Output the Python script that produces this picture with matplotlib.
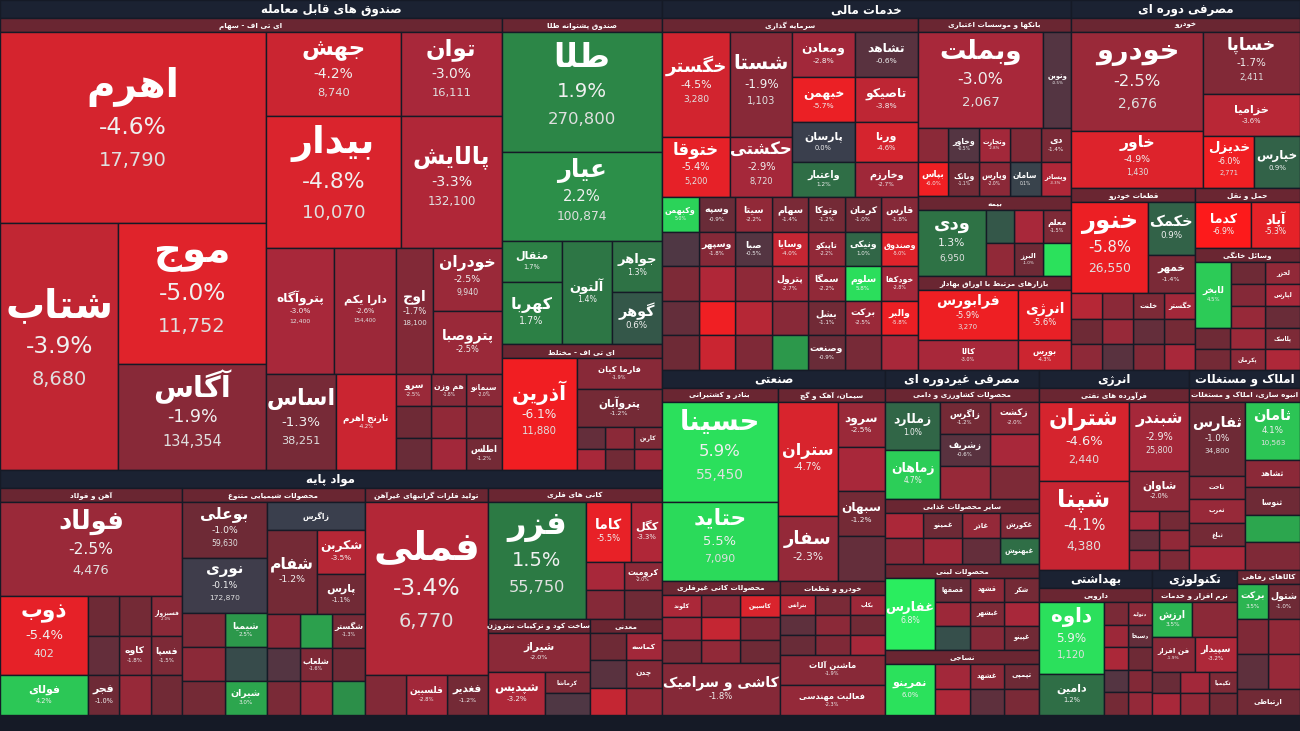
"""Tehran stock market treemap (approximate recreation)"""
import matplotlib
matplotlib.use("Agg")
import matplotlib.pyplot as plt
import numpy as np
from matplotlib.patches import Rectangle

BG = "#151a26"
HDR = "#1b2232"

# --- minimal Persian shaping (presentation forms + RTL) ---
FORMS = {
    "ا": ("\uFE8D", "\uFE8E", None, None), "آ": ("\uFE81", "\uFE82", None, None),
    "ب": ("\uFE8F", "\uFE90", "\uFE91", "\uFE92"), "پ": ("\uFB56", "\uFB57", "\uFB58", "\uFB59"),
    "ت": ("\uFE95", "\uFE96", "\uFE97", "\uFE98"), "ث": ("\uFE99", "\uFE9A", "\uFE9B", "\uFE9C"),
    "ج": ("\uFE9D", "\uFE9E", "\uFE9F", "\uFEA0"), "چ": ("\uFB7A", "\uFB7B", "\uFB7C", "\uFB7D"),
    "ح": ("\uFEA1", "\uFEA2", "\uFEA3", "\uFEA4"), "خ": ("\uFEA5", "\uFEA6", "\uFEA7", "\uFEA8"),
    "د": ("\uFEA9", "\uFEAA", None, None), "ذ": ("\uFEAB", "\uFEAC", None, None),
    "ر": ("\uFEAD", "\uFEAE", None, None), "ز": ("\uFEAF", "\uFEB0", None, None),
    "ژ": ("\uFB8A", "\uFB8B", None, None),
    "س": ("\uFEB1", "\uFEB2", "\uFEB3", "\uFEB4"), "ش": ("\uFEB5", "\uFEB6", "\uFEB7", "\uFEB8"),
    "ص": ("\uFEB9", "\uFEBA", "\uFEBB", "\uFEBC"), "ض": ("\uFEBD", "\uFEBE", "\uFEBF", "\uFEC0"),
    "ط": ("\uFEC1", "\uFEC2", "\uFEC3", "\uFEC4"), "ظ": ("\uFEC5", "\uFEC6", "\uFEC7", "\uFEC8"),
    "ع": ("\uFEC9", "\uFECA", "\uFECB", "\uFECC"), "غ": ("\uFECD", "\uFECE", "\uFECF", "\uFED0"),
    "ف": ("\uFED1", "\uFED2", "\uFED3", "\uFED4"), "ق": ("\uFED5", "\uFED6", "\uFED7", "\uFED8"),
    "ک": ("\uFB8E", "\uFB8F", "\uFB90", "\uFB91"), "گ": ("\uFB92", "\uFB93", "\uFB94", "\uFB95"),
    "ل": ("\uFEDD", "\uFEDE", "\uFEDF", "\uFEE0"), "م": ("\uFEE1", "\uFEE2", "\uFEE3", "\uFEE4"),
    "ن": ("\uFEE5", "\uFEE6", "\uFEE7", "\uFEE8"), "ه": ("\uFEE9", "\uFEEA", "\uFEEB", "\uFEEC"),
    "و": ("\uFEED", "\uFEEE", None, None), "ی": ("\uFBFC", "\uFBFD", "\uFBFE", "\uFBFF"),
    "ئ": ("\uFE89", "\uFE8A", "\uFE8B", "\uFE8C"),
}


def fa(s):
    s = s.replace("\u200c", " ")
    out = []
    for i, c in enumerate(s):
        if c not in FORMS:
            out.append(c)
            continue
        p = s[i - 1] if i > 0 else ""
        n = s[i + 1] if i + 1 < len(s) else ""
        jp = p in FORMS and FORMS[p][2] is not None
        jn = n in FORMS and FORMS[c][2] is not None
        iso, fin, ini, med = FORMS[c]
        if jp and jn:
            out.append(med)
        elif jp:
            out.append(fin)
        elif jn:
            out.append(ini)
        else:
            out.append(iso)
    return "".join(out)[::-1]


# --- data: treemap tree (weights = relative extents) ---
def L(w, name="", pct=0.0, val=""):
    return ("L", w, name, pct, val)


def H(w, *ch):
    return ("H", w, ch)


def V(w, *ch):
    return ("V", w, ch)


def S(w, title, child, big=False):
    return ("S", w, title, child, big)


def G(w, rows, cols, pcts, names=()):
    return ("G", w, rows, cols, pcts, names)


etf_stock = H(500,
    V(265, L(190, "اهرم", -4.6, "17,790"),
        H(245, L(118, "شتاب", -3.9, "8,680"),
            V(147, L(140, "موج", -5.0, "11,752"), L(105, "آگاس", -1.9, "134,354")))),
    V(235,
        H(83, L(135, "جهش", -4.2, "8,740"), L(100, "توان", -3.0, "16,111")),
        H(132, L(135, "بیدار", -4.8, "10,070"), L(100, "پالایش", -3.3, "132,100")),
        H(125, L(68, "پتروآگاه", -3.0, "12,400"), L(62, "دارا یکم", -2.6, "154,400"),
            L(37, "اوج", -1.7, "18,100"),
            V(68, L(62, "خودران", -2.5, "9,940"), L(63, "پتروصبا", -2.5))),
        H(95, L(70, "اساس", -1.3, "38,251"), L(60, "نارنج اهرم", -4.2, "10,013"),
            G(105, 3, 3, [-2.0, -1.8, -2.5, -1.5, -2.2, -1.0, -1.2, -2.8, -0.9],
              ["سیمانو", "هم وزن", "سرو", "", "", "", "اطلس", "", ""]))))

gold = V(325,
    L(118, "طلا", 1.9, "270,800"), L(88, "عیار", 2.2, "100,874"),
    H(102, V(60, L(40, "مثقال", 1.7), L(62, "کهربا", 1.7)), L(50, "آلتون", 1.4),
        V(50, L(50, "جواهر", 1.3), L(52, "گوهر", 0.6))))

mixed = H(125, L(75, "آذرین", -6.1, "11,880"),
    V(85, L(30, "فارما کیان", -1.9), L(38, "پتروآبان", -1.2),
        G(42, 2, 3, [-1.5, -2.0, -0.8, -2.6, -1.1, -3.0], ["کارین"])))

iron = V(182, L(95, "فولاد", -2.5, "4,476"),
    H(80, L(88, "ذوب", -5.4, "402"),
        G(94, 2, 3, [-2.0, -1.2, -1.0, -1.5, -1.8, -0.8], ["فسبزوار", "", "", "فسپا", "کاوه"])),
    H(40, L(88, "فولای", 4.2), G(94, 1, 3, [-1.1, -2.4, -1.0], ["", "", "فجر"])))

chem = H(183,
    V(85, L(57, "بوعلی", -1.0, "59,630"), L(55, "نوری", -0.1, "172,870"),
        G(103, 3, 2, [2.5, -1.5, 0.3, -2.0, 3.0, -1.2], ["شیمیا", "", "", "", "شیران"])),
    V(98, L(28, "زاگرس", 0.0),
        H(85, L(50, "شفام", -1.2), V(48, L(45, "شکربن", -3.5), L(40, "پارس", -1.1))),
        G(102, 3, 3, [-1.3, 2.8, -2.0, -1.0, -1.6, -0.5, 2.2, -2.4, -1.4], ["شگستر", "", "", "", "شلعاب"])))

metals = V(123, L(175, "فملی", -3.4, "6,770"), G(40, 1, 3, [-1.2, -2.8, -1.7], ["فغدیر", "فلسبین"]))

mining = V(174,
    S(130, "کانی های فلزی",
      H(130, L(98, "فزر", 1.5, "55,750"),
        V(76, H(60, L(45, "کاما", -5.5), L(31, "کگل", -3.3)), G(58, 2, 2, [-2.0, -3.0, -1.0, -1.8], ["کرومیت"])))),
    H(95, S(102, "ساخت کود و ترکیبات نیتروژن",
            V(102, L(45, "شیراز", -2.0), H(50, L(57, "شپدیس", -3.2, "181,720"), V(45, L(25, "کرماشا", -1.5), L(25, "", -0.4))))),
      S(72, "معدنی", G(72, 3, 2, [-2.8, -1.0, -1.7, -0.6, -2.2, -4.0], ["کماسه", "", "چدن"]))))

fin_invest = V(255,
    H(165, V(68, L(105, "خگستر", -4.5, "3,280"), L(60, "ختوقا", -5.4, "5,200")),
        V(62, L(105, "شستا", -1.9, "1,103"), L(60, "حکشتی", -2.9, "8,720")),
        V(62, L(45, "ومعادن", -2.8, "2,735"), L(45, "خبهمن", -5.7, "1,221"),
            L(40, "پارسان", 0.0), L(35, "واعتبار", 1.2)),
        V(63, L(45, "تشاهد", -0.6, "8,800"), L(45, "تاصیکو", -3.8, "8,200"),
            L(40, "ورنا", -4.6), L(35, "وخارزم", -2.7))),
    G(172, 5, 7,
      [-1.8, -1.0, -1.2, -1.4, -2.2, -0.9, 5.0,
       -5.0, 1.0, -2.2, -4.0, -0.5, -1.8, -0.4,
       -2.8, 5.8, -2.2, -2.7, -2.1, -3.3, -1.5,
       -5.8, -2.5, -1.1, -1.9, -3.5, -6.0, -0.8,
       -3.0, -1.3, -0.9, 2.5, -1.6, -4.2, -1.0],
      ["فارس", "کرمان", "وتوکا", "سهام", "سیتا", "وسپه", "وکبهمن",
       "وصندوق", "ونیکی", "تاپیکو", "وسایا", "صبا", "وسپهر", "",
       "خودکفا", "سلوم", "سمگا", "پترول", "", "", "",
       "والبر", "برکت", "بشل", "", "", "", "",
       "", "", "وصنعت", "", "", "", ""]))

banks = V(180,
    H(105, L(125, "وبملت", -3.0, "2,067"), L(28, "وتوین", -0.5)),
    G(75, 2, 5, [-1.4, -1.6, -2.8, -0.5, -2.0, -3.3, 0.1, -2.0, -1.1, -6.0],
      ["دی", "", "وتجارت", "وخاور", "", "وپسادر", "سامان", "وپارس", "وبانک", "بپاس"]))

insurance = H(80, L(68, "ودی", 1.3, "6,950"), G(85, 2, 3, [-1.5, -3.0, 0.6, 6.0, -1.0, -2.2], ["معلم", "", "", "", "البرز"]))

exchanges = H(95, V(100, L(60, "فرابورس", -5.9, "3,270"), L(35, "کالا", -3.0)),
    V(53, L(60, "انرژی", -5.6), L(35, "بورس", -4.3)))

fin_right = V(153,
    S(180, "بانکها و موسسات اعتباری", banks),
    S(80, "بیمه", insurance),
    S(95, "بازارهای مرتبط با اوراق بهادار", exchanges))

auto = H(225, V(130, L(108, "خودرو", -2.5, "2,676"), L(62, "خاور", -4.9, "1,430")),
    V(95, L(68, "خساپا", -1.7, "2,411"), L(45, "خزامیا", -3.6, "4,510"),
        H(57, L(50, "خدیزل", -6.0, "2,771"), L(45, "خپارس", 0.9))))

parts = V(122, H(95, L(75, "خنور", -5.8, "26,550"), V(47, L(55, "خکمک", 0.9), L(40, "خمهر", -1.4))),
    G(80, 3, 4, [-2.8, -1.5, -2.0, -3.5, -1.2, -0.8, -2.4, -1.0, -3.0, -1.6, -0.6, -2.1],
      ["خگستر", "خلنت", "", "", "", "", "", "", "", "", "", ""]))

cons_right = V(103,
    S(60, "حمل و نقل", H(60, L(55, "کدما", -6.9), L(48, "آپاد", -5.3))),
    S(80, "وسائل خانگی", H(80, L(35, "لابخر", 4.5), G(68, 3, 2, [-2.2, -1.0, -3.0, -1.8, -0.9, -2.4], ["لخزر", "", "لپارس"]))),
    G(42, 2, 3, [-1.5, -2.5, -1.0, -3.2, -2.0, -1.2], ["پلاسک", "", "", "", "پکرمان"]))

industry = H(222,
    S(115, "بنادر و کشتیرانی", V(115, L(95, "حسینا", 5.9, "55,450"), L(75, "حتاید", 5.5, "7,090")), False),
    V(107, S(110, "سیمان، آهک و گچ",
             H(107, V(60, L(70, "ستران", -4.7), L(40, "سفار", -2.3)),
               G(47, 4, 1, [-2.5, -3.0, -1.2, -0.8], ["سرود", "", "سبهان"])))))

industry_all = V(222,
    industry,
    H(155, S(117, "محصولات کانی غیرفلزی",
             V(117, G(80, 3, 3, [-4.8, -2.0, -3.1, -1.6, -4.0, -2.6, -1.0, -2.2, -1.3], ["کاسپین", "", "کلوند"]),
                L(60, "کاشی و سرامیک", -1.8))),
      S(105, "خودرو و قطعات",
        V(105, G(70, 3, 3, [-2.6, -1.4, -3.5, -1.1, -2.0, -0.7, -2.9, -1.6, -0.9], ["بکاب", "", "بترانس"]),
          L(35, "ماشین آلات", -1.9), L(35, "فعالیت مهندسی", -2.3)))))

noncyc = V(153,
    S(110, "محصولات کشاورزی و دامی",
      H(110, V(55, L(50, "زملارد", 1.0, "1,011"), L(50, "زماهان", 4.7, "10,200")),
        G(98, 3, 2, [-2.0, -1.2, -3.0, -0.6, -1.5, -2.4], ["زکشت", "زاگرس", "", "زشریف"]))),
    S(65, "سایر محصولات غذایی",
      G(65, 2, 4, [-1.6, -2.3, -1.0, -3.1, 1.2, -0.8, -2.7, -1.9], ["غکورش", "غاذر", "غمینو", "", "غبهنوش"])),
    S(85, "محصولات لبنی",
      H(85, V(50, L(100, "غفارس", 6.8)), G(103, 3, 3, [-1.2, -2.0, -0.9, -3.0, -1.5, -2.6, -1.1, -1.8, 0.4],
                                          ["شکر", "قشهد", "قصفها", "", "غبشهر", "", "غپینو"]))),
    S(65, "نساجی", H(65, L(50, "نمرینو", 6.0), G(103, 2, 3, [-1.0, -2.0, -2.8, -1.4, -0.7, -3.2], ["تپمپی", "غشهد"]))))

energy = S(150, "فرآورده های نفتی",
    H(150, V(90, L(80, "شتران", -4.6, "2,440"), L(90, "شپنا", -4.1, "4,380")),
      V(60, L(70, "شبندر", -2.9, "25,800"), L(40, "شاوان", -2.0), G(60, 3, 2, [-1.2, -3.0, -2.2, -0.8, -1.5, -2.7]))))

estate = S(110, "انبوه سازی، املاک و مستغلات",
    H(110, V(55, L(70, "ثفارس", -1.0, "34,800"), G(90, 4, 1, [-1.8, -2.4, -1.2, -3.0], ["ثاخت", "ثغرب", "ثباغ"])),
      V(55, L(55, "ثامان", 4.1, "10,563"), G(105, 4, 1, [-2.0, -1.0, 3.0, -1.6], ["ثشاهد", "ثنوسا"]))))

health = S(113, "دارویی",
    H(113, V(65, L(80, "داوه", 5.9, "1,120"), L(45, "دامین", 1.2, "7,000")),
      G(48, 5, 2, [-2.0, -1.4, -0.8, -2.6, -1.0, -3.1, -1.7, -0.5, -2.3, -1.2], ["دتولید", "", "دسبحا"])))

tech = S(84, "نرم افزار و خدمات",
    V(84, H(40, L(40, "ارزش", 3.5), L(44, "", -2.0)), H(40, L(42, "فن افزار", -1.9), L(42, "سپیدار", -3.2)),
      G(50, 2, 3, [-1.5, -2.8, -0.9, -1.1, -2.2, -3.0], ["تکیمیا"])))

welfare = V(63, S(100, "کالاهای رفاهی", G(100, 3, 2, [-1.0, 3.5, -2.2, -1.6, -2.4, -0.7], ["شتول", "برکت"])),
    L(22, "ارتباطی", -1.1))

right_bottom = V(260,
    H(200, S(150, "انرژی", energy, True), S(110, "املاک و مستغلات", estate, True)),
    H(145, S(113, "بهداشتی", health, True), S(84, "تکنولوژی", tech, True), V(63, welfare)))

TREE = H(1300,
    V(662,
      S(470, "صندوق‌های قابل معامله",
        H(470, S(500, "ای تی اف - سهام", etf_stock),
          V(160, S(325, "صندوق پشتوانه طلا", gold), S(125, "ای تی اف - مختلط", mixed))), True),
      S(245, "مواد پایه",
        H(245, S(182, "آهن و فولاد", iron), S(183, "محصولات شیمیایی متنوع", chem),
          S(123, "تولید فلزات گرانبهای غیرآهن", metals), mining), True)),
    V(638,
      H(370,
        S(408, "خدمات مالی", H(408, S(255, "سرمایه گذاری", fin_invest), fin_right), True),
        S(228, "مصرفی دوره ای",
          V(228, S(170, "خودرو", auto), H(182, S(122, "قطعات خودرو", parts), cons_right)), True)),
      H(345,
        S(222, "صنعتی", industry_all, True),
        S(153, "مصرفی غیردوره ای", noncyc, True),
        right_bottom)))

# --- colour scale ---
P_STOPS = [-7, -5, -3, -1, 0, 1.5, 4, 7]
C_STOPS = ["#ff1a1a", "#e0232b", "#a8283a", "#6e2a36", "#3a3f4d", "#2c7a44", "#2cc455", "#2af060"]
RGB = np.array([matplotlib.colors.to_rgb(c) for c in C_STOPS])


def pct_color(p):
    return tuple(np.interp(p, P_STOPS, RGB[:, k]) for k in range(3))


fig = plt.figure(figsize=(13, 7.31), dpi=100, facecolor=BG)
ax = fig.add_axes([0, 0, 1, 1])
ax.set_xlim(0, 1300)
ax.set_ylim(731, 0)
ax.axis("off")
ax.set_facecolor(BG)

PT = 0.72  # px -> pt at dpi 100


def draw_leaf(x, y, w, h, name, p, val):
    ax.add_patch(Rectangle((x, y), w, h, facecolor=pct_color(p), edgecolor=BG, lw=1.0))
    if not name or w < 14 or h < 10:
        return
    n = max(len(name), 2)
    fs = min(h * 0.22, (w - 4) / (0.72 * n + 0.8)) * PT * 1.25
    fs = min(fs, 28)
    if fs < 3:
        return
    show_pct = h > 28 and fs > 3.5
    show_val = val and h > 50 and fs > 7
    lines = 1 + show_pct + bool(show_val)
    cy = y + h / 2
    if lines == 1:
        ax.text(x + w / 2, cy, fa(name), ha="center", va="center", color="white", fontsize=fs, fontweight="bold")
        return
    gap = fs / PT * (1.0 if lines == 2 else 1.05)
    top = cy - gap * (lines - 1) / 2
    ax.text(x + w / 2, top, fa(name), ha="center", va="center", color="white", fontsize=fs, fontweight="bold")
    ax.text(x + w / 2, top + gap, f"{p:.1f}%", ha="center", va="center", color="#f0f0f0", fontsize=fs * 0.6)
    if show_val:
        ax.text(x + w / 2, top + gap * 1.8, val, ha="center", va="center", color="#e0e0e0", fontsize=fs * 0.5)


def layout(node, x, y, w, h):
    kind = node[0]
    if kind == "L":
        draw_leaf(x, y, w, h, node[2], node[3], node[4])
    elif kind in ("H", "V"):
        ch = node[2]
        ws = np.array([c[1] for c in ch], float)
        ws = ws / ws.sum()
        pos = 0.0
        for c, f in zip(ch, ws):
            if kind == "H":
                layout(c, x + pos * w, y, f * w, h)
            else:
                layout(c, x, y + pos * h, w, f * h)
            pos += f
    elif kind == "S":
        title, child, big = node[2], node[3], node[4]
        hh = 18 if big else 14
        ax.add_patch(Rectangle((x, y), w, hh, facecolor=HDR if big else "#6a2632", edgecolor=BG, lw=1.0))
        fs = 8.5 if big else 5.2
        fs = min(fs, (w - 4) / (0.62 * len(title) + 1) * PT * 1.25)
        ax.text(x + w / 2, y + hh / 2 + 0.5, fa(title), ha="center", va="center", color="white",
                fontsize=fs, fontweight="bold", clip_on=True)
        layout(child, x, y + hh, w, h - hh)
    elif kind == "G":
        rows, cols, pcts, names = node[2], node[3], node[4], node[5]
        cw, rh = w / cols, h / rows
        for i in range(rows):
            for j in range(cols):
                k = i * cols + j
                nm = names[k] if k < len(names) else ""
                draw_leaf(x + w - (j + 1) * cw, y + i * rh, cw, rh, nm, pcts[k], "")


layout(TREE, 0, 0, 1300, 715)
fig.savefig("out.png", dpi=100, facecolor=BG)
